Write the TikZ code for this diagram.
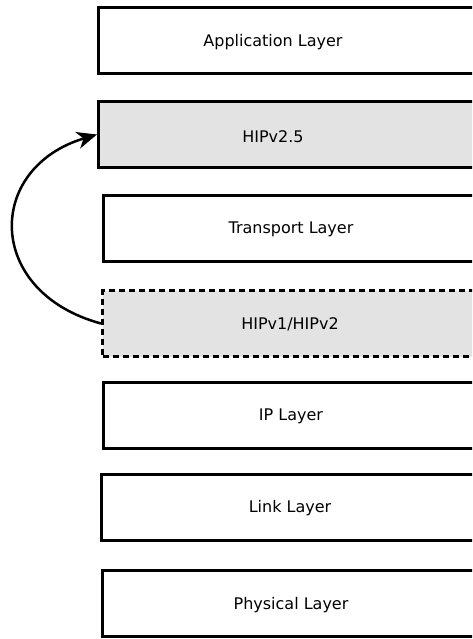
\documentclass[tikz,border=0pt]{standalone}
\usepackage{fontspec}
\setmainfont{DejaVu Sans}
\usetikzlibrary{arrows.meta}
\definecolor{hipgray}{HTML}{E3E3E3}
\tikzset{layer/.style={draw=black, line width=3pt, minimum height=66pt, minimum width=383pt, inner sep=0pt},
         hipbox/.style={layer, fill=hipgray},
         oldbox/.style={hipbox, dash pattern=on 6pt off 4pt},
         layertext/.style={font=\fontsize{16}{19}\selectfont, inner sep=0pt, yshift=-1.5pt},
         swap/.style={draw=black, line width=2.5pt, -{Stealth[length=20pt,width=17pt,inset=6pt]}}}

\begin{document}
\begin{tikzpicture}[x=1pt,y=-1pt]
  \useasboundingbox (0,0) rectangle (472,639);
  \clip (0,0) rectangle (472,639);
  \node[layer]  (app)       at (290,41)    {};
  \node[hipbox] (hipnew)    at (290,134.5) {};
  \node[layer]  (transport) at (295,228)   {};
  \node[oldbox] (hipold)    at (294,323.5) {};
  \node[layer]  (ip)        at (295,415.5) {};
  \node[layer]  (link)      at (293,507)   {};
  \node[layer]  (phys)      at (294,603.5) {};
  \node[layertext] (apptext)       at (273,41)  {Application Layer};
  \node[layertext] (hipnewtext)    at (273,135) {HIPv2.5};
  \node[layertext] (transporttext) at (291,228) {Transport Layer};
  \node[layertext] (hipoldtext)    at (290,323) {HIPv1/HIPv2};
  \node[layertext] (iptext)        at (291,415) {IP Layer};
  \node[layertext] (linktext)      at (290,507) {Link Layer};
  \node[layertext] (physicaltext)  at (291,604) {Physical Layer};
  \draw[swap] (hipold.west) .. controls (-15,292) and (-15,168) .. (hipnew.west);
\end{tikzpicture}
\end{document}
